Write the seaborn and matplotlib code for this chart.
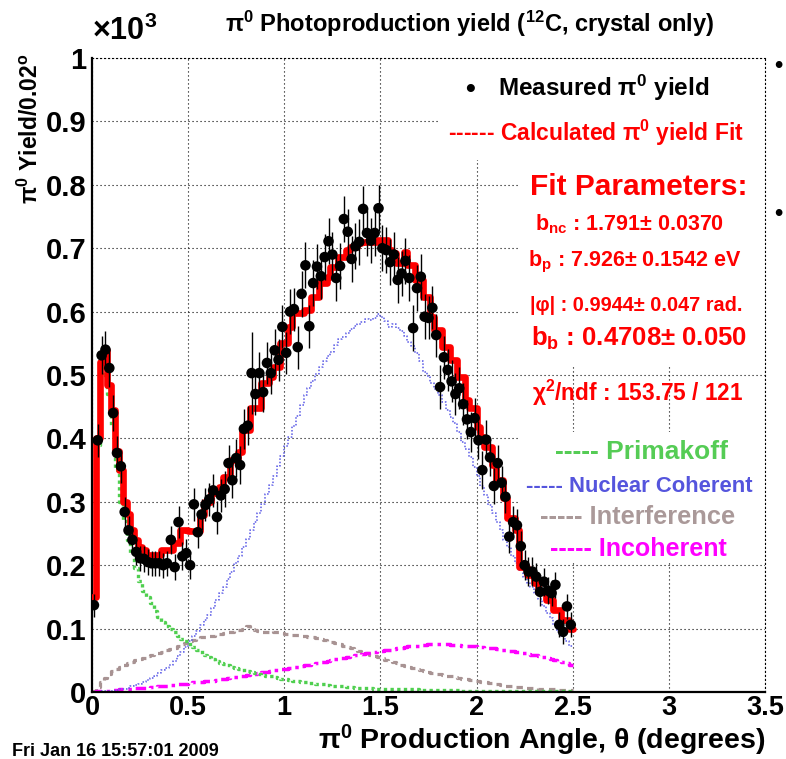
import numpy as np
import pandas as pd
import matplotlib
matplotlib.use('Agg')
import matplotlib.pyplot as plt
from matplotlib.patches import Rectangle
from matplotlib.ticker import MultipleLocator, FuncFormatter
import seaborn as sns

# ---------------- data (yield in units of 10^3, bins of 0.02 deg) ----------------
bin_width = 0.02

measured = [0.137, 0.397, 0.531, 0.540, 0.511, 0.440, 0.377, 0.356, 0.284, 0.255,
            0.240, 0.221, 0.211, 0.210, 0.205, 0.203, 0.203, 0.203, 0.200, 0.203,
            0.240, 0.197, 0.268, 0.214, 0.219, 0.200, 0.296, 0.252, 0.280, 0.295,
            0.304, 0.318, 0.276, 0.310, 0.320, 0.361, 0.334, 0.369, 0.358, 0.415,
            0.420, 0.503, 0.470, 0.503, 0.473, 0.519, 0.503, 0.539, 0.524, 0.576,
            0.535, 0.600, 0.604, 0.544, 0.628, 0.673, 0.577, 0.645, 0.671, 0.656,
            0.686, 0.711, 0.690, 0.653, 0.672, 0.746, 0.726, 0.683, 0.703, 0.710,
            0.762, 0.724, 0.712, 0.724, 0.763, 0.700, 0.697, 0.678, 0.690, 0.650,
            0.660, 0.680, 0.653, 0.574, 0.637, 0.655, 0.592, 0.590, 0.606, 0.563,
            0.481, 0.528, 0.508, 0.490, 0.470, 0.479, 0.454, 0.430, 0.410, 0.432,
            0.397, 0.350, 0.398, 0.370, 0.325, 0.361, 0.330, 0.308, 0.245, 0.268,
            0.263, 0.230, 0.200, 0.190, 0.190, 0.182, 0.158, 0.174, 0.160, 0.156,
            0.169, 0.106, 0.095, 0.135, 0.106]

measured_err = [0.018, 0.026, 0.030, 0.030, 0.030, 0.028, 0.026, 0.026, 0.024, 0.022,
                0.022, 0.020, 0.020, 0.020, 0.020, 0.020, 0.020, 0.020, 0.020, 0.020,
                0.022, 0.020, 0.025, 0.022, 0.022, 0.022, 0.026, 0.025, 0.025, 0.026,
                0.026, 0.026, 0.026, 0.026, 0.028, 0.028, 0.028, 0.030, 0.030, 0.031,
                0.031, 0.065, 0.033, 0.033, 0.032, 0.033, 0.033, 0.033, 0.033, 0.034,
                0.033, 0.036, 0.034, 0.034, 0.036, 0.036, 0.034, 0.036, 0.036, 0.036,
                0.036, 0.036, 0.036, 0.036, 0.036, 0.036, 0.036, 0.036, 0.036, 0.036,
                0.036, 0.036, 0.036, 0.036, 0.036, 0.036, 0.036, 0.036, 0.036, 0.036,
                0.036, 0.036, 0.036, 0.036, 0.036, 0.036, 0.036, 0.034, 0.034, 0.034,
                0.034, 0.034, 0.033, 0.033, 0.033, 0.033, 0.033, 0.031, 0.031, 0.031,
                0.030, 0.030, 0.031, 0.029, 0.028, 0.028, 0.027, 0.026, 0.026, 0.026,
                0.026, 0.024, 0.024, 0.023, 0.023, 0.022, 0.022, 0.022, 0.021, 0.021,
                0.021, 0.020, 0.020, 0.020, 0.020]

fit_total = [0.150, 0.400, 0.520, 0.540, 0.485, 0.445, 0.380, 0.350, 0.300, 0.280,
             0.255, 0.240, 0.228, 0.224, 0.216, 0.216, 0.216, 0.216, 0.224, 0.224,
             0.224, 0.235, 0.235, 0.255, 0.255, 0.254, 0.254, 0.254, 0.279, 0.300,
             0.300, 0.314, 0.314, 0.324, 0.339, 0.339, 0.366, 0.366, 0.379, 0.413,
             0.413, 0.448, 0.448, 0.448, 0.487, 0.487, 0.497, 0.513, 0.513, 0.550,
             0.550, 0.576, 0.598, 0.598, 0.598, 0.603, 0.603, 0.623, 0.623, 0.645,
             0.645, 0.655, 0.670, 0.670, 0.686, 0.686, 0.697, 0.702, 0.702, 0.708,
             0.710, 0.710, 0.710, 0.710, 0.713, 0.713, 0.713, 0.697, 0.692, 0.677,
             0.677, 0.694, 0.673, 0.673, 0.650, 0.650, 0.623, 0.623, 0.592, 0.571,
             0.571, 0.544, 0.544, 0.524, 0.524, 0.497, 0.497, 0.460, 0.448, 0.448,
             0.418, 0.402, 0.387, 0.387, 0.358, 0.334, 0.334, 0.306, 0.274, 0.274,
             0.255, 0.197, 0.197, 0.185, 0.185, 0.172, 0.158, 0.158, 0.145, 0.145,
             0.129, 0.129, 0.114, 0.114, 0.100]

primakoff = [0.150, 0.390, 0.500, 0.520, 0.470, 0.420, 0.350, 0.300, 0.270, 0.240,
             0.220, 0.195, 0.175, 0.160, 0.150, 0.140, 0.128, 0.118, 0.110, 0.104,
             0.099, 0.094, 0.088, 0.084, 0.080, 0.076, 0.071, 0.067, 0.063, 0.058,
             0.055, 0.052, 0.049, 0.046, 0.044, 0.042, 0.040, 0.038, 0.036, 0.035,
             0.033, 0.032, 0.030, 0.028, 0.027, 0.026, 0.025, 0.023, 0.022, 0.021,
             0.020, 0.019, 0.018, 0.017, 0.016, 0.015, 0.014, 0.014, 0.013, 0.012,
             0.012, 0.011, 0.010, 0.010, 0.009, 0.009, 0.008, 0.008, 0.007, 0.007,
             0.006, 0.006, 0.006, 0.005, 0.005, 0.005, 0.004, 0.004, 0.004, 0.004,
             0.004, 0.004, 0.004, 0.004, 0.004, 0.003, 0.003, 0.003, 0.003, 0.003,
             0.003, 0.003, 0.003, 0.003, 0.003, 0.003, 0.002, 0.002, 0.002, 0.002,
             0.002, 0.002, 0.002, 0.002, 0.002, 0.002, 0.002, 0.002, 0.002, 0.002,
             0.002, 0.001, 0.001, 0.001, 0.001, 0.001, 0.001, 0.001, 0.001, 0.001,
             0.001, 0.001, 0.001, 0.001, 0.001]

nuclear_coherent = [0.000, 0.000, 0.001, 0.001, 0.002, 0.002, 0.003, 0.004, 0.005, 0.007,
                    0.009, 0.011, 0.013, 0.016, 0.019, 0.022, 0.026, 0.030, 0.034, 0.038,
                    0.043, 0.049, 0.056, 0.063, 0.071, 0.080, 0.088, 0.096, 0.105, 0.113,
                    0.122, 0.133, 0.145, 0.156, 0.166, 0.178, 0.190, 0.203, 0.215, 0.228,
                    0.242, 0.255, 0.268, 0.282, 0.296, 0.312, 0.326, 0.340, 0.357, 0.372,
                    0.388, 0.402, 0.420, 0.436, 0.452, 0.468, 0.480, 0.490, 0.502, 0.512,
                    0.522, 0.530, 0.536, 0.548, 0.556, 0.560, 0.566, 0.572, 0.578, 0.580,
                    0.584, 0.588, 0.586, 0.590, 0.596, 0.592, 0.585, 0.575, 0.580, 0.574,
                    0.570, 0.562, 0.552, 0.545, 0.535, 0.522, 0.505, 0.498, 0.488, 0.478,
                    0.468, 0.458, 0.445, 0.434, 0.425, 0.410, 0.395, 0.383, 0.370, 0.355,
                    0.340, 0.325, 0.310, 0.295, 0.282, 0.268, 0.255, 0.240, 0.228, 0.215,
                    0.203, 0.192, 0.182, 0.172, 0.165, 0.155, 0.146, 0.135, 0.125, 0.116,
                    0.105, 0.095, 0.088, 0.080, 0.072]

interference = [0.002, 0.008, 0.015, 0.022, 0.028, 0.033, 0.037, 0.040, 0.043, 0.046,
                0.048, 0.050, 0.052, 0.054, 0.056, 0.058, 0.060, 0.062, 0.063, 0.066,
                0.068, 0.070, 0.072, 0.075, 0.077, 0.080, 0.082, 0.084, 0.086, 0.087,
                0.088, 0.089, 0.090, 0.092, 0.093, 0.094, 0.095, 0.097, 0.098, 0.100,
                0.104, 0.100, 0.098, 0.097, 0.095, 0.094, 0.096, 0.095, 0.094, 0.093,
                0.092, 0.091, 0.090, 0.090, 0.089, 0.088, 0.087, 0.086, 0.085, 0.083,
                0.082, 0.080, 0.079, 0.077, 0.075, 0.073, 0.071, 0.069, 0.067, 0.065,
                0.063, 0.061, 0.059, 0.057, 0.055, 0.053, 0.051, 0.049, 0.047, 0.045,
                0.043, 0.041, 0.040, 0.038, 0.036, 0.035, 0.033, 0.032, 0.030, 0.029,
                0.028, 0.027, 0.026, 0.025, 0.024, 0.022, 0.021, 0.020, 0.019, 0.018,
                0.017, 0.016, 0.015, 0.014, 0.013, 0.012, 0.011, 0.010, 0.010, 0.009,
                0.008, 0.008, 0.007, 0.007, 0.006, 0.006, 0.005, 0.005, 0.004, 0.004,
                0.004, 0.003, 0.003, 0.003, 0.003]

incoherent = [0.000, 0.001, 0.001, 0.002, 0.002, 0.003, 0.003, 0.004, 0.004, 0.005,
              0.005, 0.006, 0.006, 0.007, 0.007, 0.008, 0.008, 0.009, 0.009, 0.010,
              0.011, 0.011, 0.012, 0.013, 0.013, 0.014, 0.015, 0.015, 0.016, 0.017,
              0.018, 0.018, 0.019, 0.020, 0.021, 0.022, 0.023, 0.024, 0.025, 0.026,
              0.027, 0.028, 0.029, 0.030, 0.031, 0.032, 0.033, 0.034, 0.035, 0.036,
              0.037, 0.038, 0.039, 0.040, 0.041, 0.042, 0.043, 0.044, 0.046, 0.047,
              0.048, 0.049, 0.050, 0.052, 0.053, 0.054, 0.055, 0.057, 0.058, 0.059,
              0.060, 0.061, 0.062, 0.063, 0.064, 0.065, 0.066, 0.067, 0.068, 0.069,
              0.070, 0.071, 0.072, 0.073, 0.073, 0.074, 0.074, 0.075, 0.075, 0.075,
              0.075, 0.075, 0.075, 0.074, 0.074, 0.074, 0.073, 0.073, 0.072, 0.072,
              0.071, 0.071, 0.070, 0.069, 0.069, 0.068, 0.067, 0.066, 0.065, 0.064,
              0.063, 0.062, 0.061, 0.060, 0.059, 0.058, 0.056, 0.055, 0.053, 0.052,
              0.050, 0.049, 0.047, 0.045, 0.043]

x_ticks_major = 0.5
y_ticks_major = 0.1

# ---------------- styling ----------------
sns.set_theme(style='white')
plt.rcParams['font.family'] = ['Liberation Sans', 'DejaVu Sans']
plt.rcParams['font.weight'] = 'bold'
plt.rcParams['mathtext.fontset'] = 'custom'
plt.rcParams['mathtext.rm'] = 'Liberation Sans:bold'
plt.rcParams['mathtext.it'] = 'Liberation Sans:bold'
plt.rcParams['mathtext.bf'] = 'Liberation Sans:bold'

W, H = 786, 759
fig = plt.figure(figsize=(W / 100, H / 100), dpi=100)
fig.patch.set_facecolor('white')
ax = fig.add_axes([92 / W, 1 - 692 / H, (765 - 92) / W, (692 - 58) / H])
ax.set_facecolor('white')

n = len(measured)
edges = np.arange(n + 1) * bin_width
centers = edges[:-1] + bin_width / 2


def hist_df(vals):
    return pd.DataFrame({'x': edges, 'y': list(vals) + [vals[-1]]})


# grid (below everything)
ax.set_axisbelow(True)
ax.grid(True, which='major', color='black', linestyle=(0, (1, 2.6)), linewidth=0.8)

# white panes of the legends / fit boxes that hide the grid
for (x0, y0, x1, y1) in [(0.517, 0.839, 1.0, 1.0), (0.636, 0.516, 1.0, 0.839),
                         (0.636, 0.207, 1.0, 0.41)]:
    ax.add_patch(Rectangle((x0, y0), x1 - x0, y1 - y0, transform=ax.transAxes,
                           facecolor='white', edgecolor='none', zorder=0.9))

# components
sns.lineplot(data=hist_df(interference), x='x', y='y', ax=ax, drawstyle='steps-post',
             color='#a89393', linewidth=2.3, linestyle=(0, (2.0, 1.6)), zorder=2,
             estimator=None, sort=False)
sns.lineplot(data=hist_df(incoherent), x='x', y='y', ax=ax, drawstyle='steps-post',
             color='#ff00ff', linewidth=2.5, linestyle=(0, (3.0, 1.4, 1.0, 1.4)), zorder=2,
             estimator=None, sort=False)
sns.lineplot(data=hist_df(nuclear_coherent), x='x', y='y', ax=ax, drawstyle='steps-post',
             color='#5a5ae6', linewidth=1.1, linestyle=(0, (1.0, 1.2)), zorder=2,
             estimator=None, sort=False)
sns.lineplot(data=hist_df(primakoff), x='x', y='y', ax=ax, drawstyle='steps-post',
             color='#4fcf4f', linewidth=2.4, linestyle=(0, (1.0, 1.0)), zorder=2.5,
             estimator=None, sort=False)

# total fit
sns.lineplot(data=hist_df(fit_total), x='x', y='y', ax=ax, drawstyle='steps-post',
             color='#ff0000', linewidth=4.8, zorder=3, estimator=None, sort=False)

# measured
ax.errorbar(centers, measured, yerr=measured_err, fmt='none', ecolor='black',
            elinewidth=1.0, capsize=0, zorder=4)
sns.scatterplot(x=centers, y=measured, ax=ax, color='black', s=58, edgecolor='none',
                zorder=5)

ax.set_xlim(0, 3.5)
ax.set_ylim(0, 1.0)
ax.set_xlabel('')
ax.set_ylabel('')

ax.xaxis.set_major_locator(MultipleLocator(x_ticks_major))
ax.xaxis.set_minor_locator(MultipleLocator(0.1))
ax.yaxis.set_major_locator(MultipleLocator(y_ticks_major))
ax.yaxis.set_minor_locator(MultipleLocator(0.02))
fmt = FuncFormatter(lambda v, p: f'{round(v, 2):g}')
ax.xaxis.set_major_formatter(fmt)
ax.yaxis.set_major_formatter(fmt)
ax.tick_params(axis='x', which='major', direction='in', length=11, width=1.3,
               color='black', labelsize=19.5, pad=2)
ax.tick_params(axis='x', which='minor', direction='in', length=6, width=1.1,
               color='black')
ax.tick_params(axis='y', which='major', direction='in', length=9, width=1.3,
               color='black', labelsize=21, pad=4)
ax.tick_params(axis='y', which='minor', direction='in', length=5, width=1.1,
               color='black')
for lab in ax.get_xticklabels() + ax.get_yticklabels():
    lab.set_fontweight('bold')
    lab.set_color('black')

for s in ['left', 'bottom']:
    ax.spines[s].set_color('black')
    ax.spines[s].set_linewidth(1.6)
for s in ['top', 'right']:
    ax.spines[s].set_color('black')
    ax.spines[s].set_linewidth(0.8)
    ax.spines[s].set_linestyle((0, (1, 2.6)))
    ax.spines[s].set_visible(True)


# ---------------- texts (pixel positions in figure) ----------------
def T(px, py, s, size, color='black', ha='left', va='center', **kw):
    kw2 = dict(fontsize=size, color=color, ha=ha, va=va, fontweight='bold')
    kw2.update(kw)
    return fig.text(px / W, 1 - py / H, s, **kw2)


T(470, 24, 'π$^{0}$ Photoproduction yield ($^{12}$C, crystal only)', 17, ha='center')
T(92, 40, '×10$^{3}$', 22, ha='left', va='baseline')
T(30, 53, 'π$^{0}$ Yield/0.02$^{o}$', 16.5, ha='center', va='top', rotation=90)
T(765, 749, 'π$^{0}$ Production Angle, θ (degrees)', 20.5, ha='right', va='baseline')
T(12, 743, 'Fri Jan 16 15:57:01 2009', 13, ha='left', va='top')

# legend 1
T(470, 90, '•', 20, ha='center')
T(498, 88, 'Measured π$^{0}$ yield', 17.5)
T(448, 133, '------ Calculated π$^{0}$ yield Fit', 16.5, color='#ff0000')

# fit parameters
RED = '#ff0000'
T(530, 187, 'Fit Parameters:', 21.5, color=RED)
T(535, 224, 'b$_{nc}$ : 1.791± 0.0370', 15.5, color=RED)
T(528, 262, 'b$_{p}$ : 7.926± 0.1542 eV', 15.5, color=RED)
T(530, 305, '|φ| : 0.9944± 0.047 rad.', 14.3, color=RED)
T(531, 338, 'b$_{b}$ : 0.4708± 0.050', 18.5, color=RED)
T(532, 393, 'χ$^{2}$/ndf : 153.75 / 121', 16.3, color=RED)

# component legend
T(555, 452, '----- Primakoff', 19, color='#55cc55')
T(526, 487, '----- Nuclear Coherent', 15.8, color='#5555dd')
T(540, 517, '----- Interference', 18.3, color='#aa9999')
T(550, 549, '----- Incoherent', 18, color='#ff00ff')

# bullets of the neighbouring slide, at the right edge
T(778, 66, '•', 17, ha='center')
T(778, 213, '•', 17, ha='center')

fig.savefig('out.png', dpi=100, facecolor='white')
